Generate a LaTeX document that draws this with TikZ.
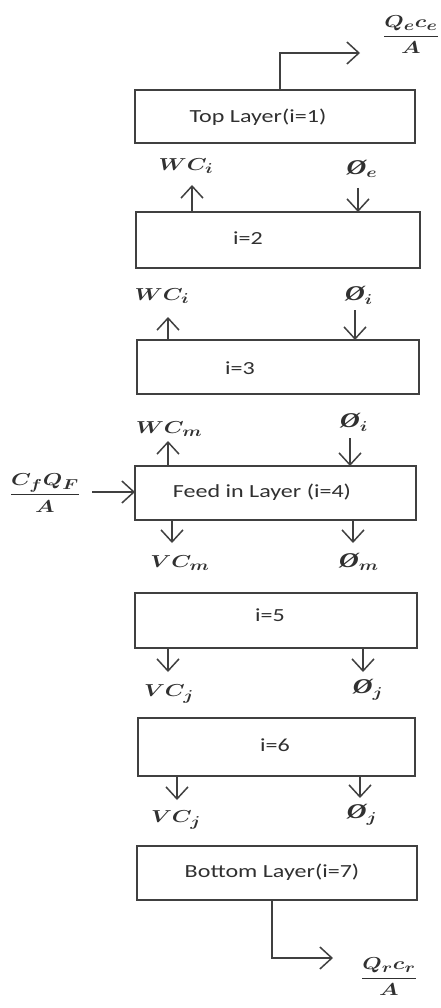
\documentclass[tikz,border=0pt]{standalone}
\usepackage{fontspec}
\usepackage{amsmath}
\usepackage{graphicx}
\setmainfont{Carlito}
\newfontfamily\serifo{Liberation Serif}
\usetikzlibrary{arrows.meta}
\definecolor{ln}{HTML}{404040}
\definecolor{tx}{HTML}{303030}
\newcommand{\sx}[1]{\scalebox{1.3}[1]{#1}}
\newcommand{\phisym}[1]{{\serifo\bfseries\itshape\fontsize{21}{22}\selectfont Ø}$_{#1}$}
\begin{document}
\begin{tikzpicture}[x=1pt,y=-1pt,
  box/.style={draw=ln, line width=1.5pt, inner sep=0pt, outer sep=0pt},
  lbl/.style={text=tx, font=\fontsize{18.5}{20}\selectfont, inner sep=0pt},
  mlbl/.style={text=tx, font=\fontsize{19}{22}\selectfont\boldmath, inner sep=0pt},
  arr/.style={draw=ln, line width=1.5pt, -{Straight Barb[length=12pt,width=22pt]}}]
\useasboundingbox (0,0) rectangle (441,1008);
% boxes
\node[box, minimum width=280pt, minimum height=53pt] (b1) at (275,116.5) {};
\node[box, minimum width=284pt, minimum height=56pt] (b2) at (278,240) {};
\node[box, minimum width=282pt, minimum height=54pt] (b3) at (278,367) {};
\node[box, minimum width=281pt, minimum height=54pt] (b4) at (275.5,493) {};
\node[box, minimum width=282pt, minimum height=55pt] (b5) at (276,620.5) {};
\node[box, minimum width=277pt, minimum height=58pt] (b6) at (276.5,747) {};
\node[box, minimum width=280pt, minimum height=54pt] (b7) at (277,873) {};
% box texts
\node[lbl] (t1) at (258,117) {\sx{Top Layer(i=1)}};
\node[lbl] (t2) at (248,238) {\sx{i=2}};
\node[lbl] (t3) at (240,368) {\sx{i=3}};
\node[lbl] (t4) at (262,492) {\sx{Feed in Layer (i=4)}};
\node[lbl] (t5) at (270,615) {\sx{i=5}};
\node[lbl] (t6) at (275,745) {\sx{i=6}};
\node[lbl] (t7) at (272,872) {\sx{Bottom Layer(i=7)}};
% top outflow
\coordinate (e1) at (360,53);
\draw[arr] ([xshift=5pt]b1.north) |- (e1);
\node[mlbl] (fe) at (411,35) {\sx{$\dfrac{Q_e c_e}{A}$}};
% layer 2
\coordinate (u2) at (192,185);
\draw[arr] (b2.north -| u2) -- (u2);
\node[mlbl] (w2) at (186,166) {\sx{$WC_i$}};
\coordinate (d2) at (358,188);
\draw[arr] (d2) -- (d2 |- b2.north);
\node[mlbl] (p2) at (362,169) {\sx{\phisym{e}}};
% layer 3
\coordinate (u3) at (168,317);
\draw[arr] (b3.north -| u3) -- (u3);
\node[mlbl] (w3) at (162,296) {\sx{$WC_i$}};
\coordinate (d3) at (355,310);
\draw[arr] (d3) -- (d3 |- b3.north);
\node[mlbl] (p3) at (359,295) {\sx{\phisym{i}}};
% layer 4
\coordinate (u4) at (168,441);
\draw[arr] (b4.north -| u4) -- (u4);
\node[mlbl] (w4) at (169,429) {\sx{$WC_m$}};
\coordinate (d4) at (350,438);
\draw[arr] (d4) -- (d4 |- b4.north);
\node[mlbl] (p4) at (354,422) {\sx{\phisym{i}}};
\coordinate (f0) at (92,492);
\draw[arr] (f0) -- (f0 -| b4.west);
\node[mlbl] (ff) at (45,493) {\sx{$\dfrac{C_f Q_F}{A}$}};
\coordinate (v4) at (172,543);
\draw[arr] (b4.south -| v4) -- (v4);
\node[mlbl] (vc4) at (180,563) {\sx{$VC_m$}};
\coordinate (q4) at (353,543);
\draw[arr] (b4.south -| q4) -- (q4);
\node[mlbl] (pm4) at (359,562) {\sx{\phisym{m}}};
% layer 5
\coordinate (v5) at (168,672);
\draw[arr] (b5.south -| v5) -- (v5);
\node[mlbl] (vc5) at (169,694) {\sx{$VC_j$}};
\coordinate (q5) at (363,672);
\draw[arr] (b5.south -| q5) -- (q5);
\node[mlbl] (pj5) at (368,690) {\sx{\phisym{j}}};
% layer 6
\coordinate (v6) at (177,800);
\draw[arr] (b6.south -| v6) -- (v6);
\node[mlbl] (vc6) at (176,820) {\sx{$VC_j$}};
\coordinate (q6) at (360,798);
\draw[arr] (b6.south -| q6) -- (q6);
\node[mlbl] (pj6) at (362,815) {\sx{\phisym{j}}};
% bottom outflow
\coordinate (e7) at (333,958);
\draw[arr] ([xshift=-5pt]b7.south) |- (e7);
\node[mlbl] (fr) at (389,977) {\sx{$\dfrac{Q_r c_r}{A}$}};
\end{tikzpicture}
\end{document}
